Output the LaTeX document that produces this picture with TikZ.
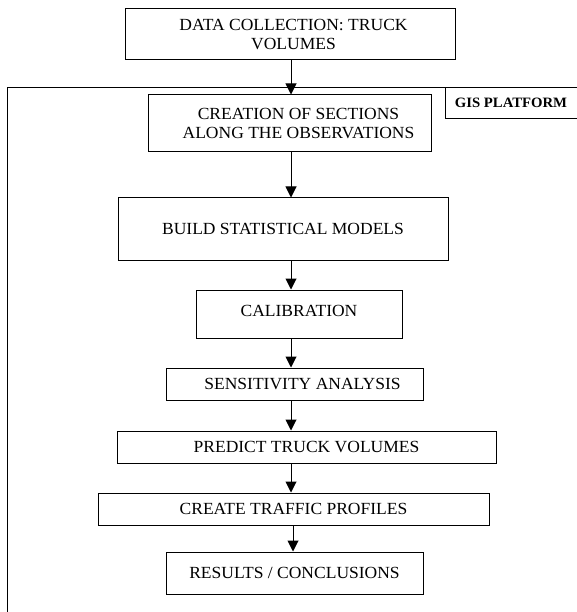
\documentclass[tikz,border=0pt]{standalone}
\usepackage{fontspec}
\setmainfont[FakeStretch=1.03]{Liberation Serif}
\usetikzlibrary{arrows.meta}
\begin{document}
\begin{tikzpicture}[x=1pt,y=-1pt,
  box/.style={draw, line width=1pt, rectangle, inner sep=0pt, align=center,
    font=\fontsize{17}{18.7}\selectfont},
  arr/.style={line width=1pt, -{Triangle[width=11pt,length=11pt]}},
  frame/.style={line width=1pt}]
\useasboundingbox (0,0) rectangle (577,612);
\node[box, minimum width=330, minimum height=51] (b1) at (290,34.5)
  {\hspace*{7pt}\raisebox{-2pt}{DATA COLLECTION: TRUCK}\\\hspace*{7pt}\raisebox{-2pt}{VOLUMES}};
\node[box, minimum width=283, minimum height=57] (cre) at (289.5,123.5)
  {\hspace*{18pt}CREATION OF SECTIONS\\\hspace*{18pt}ALONG THE OBSERVATIONS};
\node[box, minimum width=330, minimum height=62] (bld) at (283,229)
  {BUILD STATISTICAL MODELS};
\node[box, minimum width=206, minimum height=48] (cal) at (299,314)
  {\raisebox{7pt}{CALIBRATION}};
\node[box, minimum width=257, minimum height=32] (sen) at (294.5,384)
  {\hspace*{16pt}SENSITIVITY ANALYSIS};
\node[box, minimum width=379, minimum height=32] (pre) at (306.5,447)
  {PREDICT TRUCK VOLUMES};
\node[box, minimum width=391, minimum height=32] (ctp) at (293.5,509)
  {CREATE TRAFFIC PROFILES};
\node[box, minimum width=257, minimum height=42] (res) at (294.5,573)
  {RESULTS / CONCLUSIONS};
% GIS platform frame
\coordinate (ftr) at (577,88);
\coordinate (ftl) at (7,88);
\coordinate (fbl) at (7,612);
\draw[frame] (ftr) -- (ftl) -- (fbl);
\node[font=\bfseries\fontsize{14.3}{16}\selectfont, inner sep=0pt] (gis) at (511,103) {GIS PLATFORM};
\coordinate (gbr) at (577,119);
\coordinate (gbl) at (445,119);
\coordinate (gtl) at (445,88);
\draw[frame] (gbr) -- (gbl) -- (gtl);
% arrows
\coordinate (ax) at (291,0);
\coordinate (ax2) at (293,0);
\draw[arr] (b1.south -| ax) -- (cre.north -| ax);
\draw[arr] (cre.south -| ax) -- (bld.north -| ax);
\draw[arr] (bld.south -| ax) -- (cal.north -| ax);
\draw[arr] (cal.south -| ax) -- (sen.north -| ax);
\draw[arr] (sen.south -| ax) -- (pre.north -| ax);
\draw[arr] (pre.south -| ax) -- (ctp.north -| ax);
\draw[arr] (ctp.south -| ax2) -- (res.north -| ax2);
\end{tikzpicture}
\end{document}
